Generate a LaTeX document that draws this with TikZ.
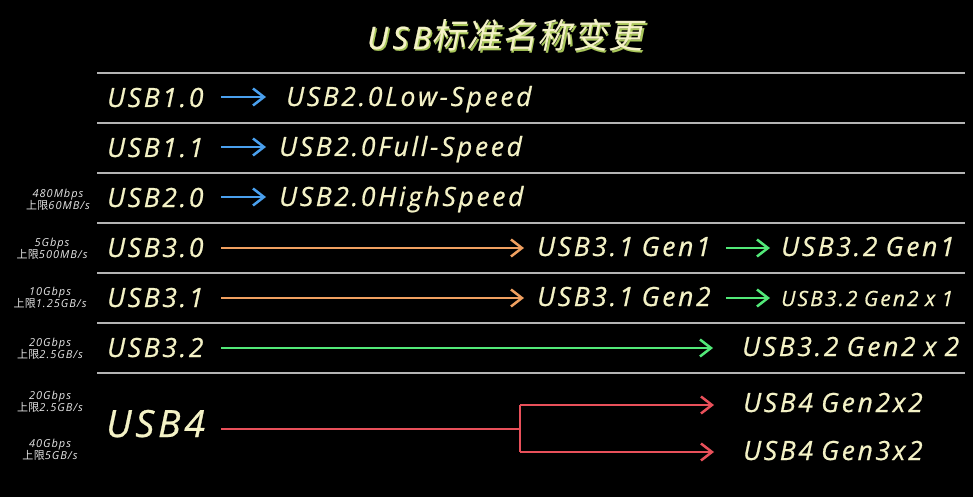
\documentclass[tikz,border=0pt]{standalone}
\usepackage{fontspec}
\setmainfont{Open Sans}
\newfontfamily\uf{Open Sans}[LetterSpace=10,WordSpace=0.85,FakeBold=0.7]
\newfontfamily\ufs{Open Sans}[LetterSpace=9]
\newfontfamily\uft{Open Sans}[LetterSpace=14,FakeBold=0.7]
\newfontfamily\cjk{Noto Sans CJK SC}[LetterSpace=4]
\newfontfamily\cjkslant{Noto Sans CJK SC}[FakeSlant=0.2,LetterSpace=3]
\usetikzlibrary{arrows.meta}
\definecolor{cream}{HTML}{F4F2C6}
\definecolor{titlegreen}{HTML}{A8C65A}
\definecolor{sepgray}{HTML}{B4B4B4}
\definecolor{ablue}{HTML}{4AA0EE}
\definecolor{aorange}{HTML}{F0A060}
\definecolor{agreen}{HTML}{52E878}
\definecolor{ared}{HTML}{E8505A}
\definecolor{lbl}{HTML}{E6E6E6}
\begin{document}
\begin{tikzpicture}[x=1pt,y=-1pt,
  mainlbl/.style={anchor=base west, inner sep=0pt, text=cream, font=\uf\fontsize{26.5}{30}\selectfont\itshape},
  biglbl/.style={anchor=base west, inner sep=0pt, text=cream, font=\uf\fontsize{37.5}{40}\selectfont\itshape},
  smalllbl/.style={anchor=base west, inner sep=0pt, text=cream, font=\uf\fontsize{21}{24}\selectfont\itshape},
  speed/.style={align=center, inner sep=0pt, text=lbl, font=\ufs\fontsize{11}{12}\selectfont\itshape},
  sep/.style={draw=sepgray, line width=2pt},
  conn/.style={line width=2.5pt, -{Straight Barb[length=11pt,width=17pt,line width=2.5pt]}},
  plain/.style={line width=2.5pt}
]
\fill[black] (0,0) rectangle (973,497);
\useasboundingbox (0,0) rectangle (973,497);

% title
\node[anchor=base west, inner sep=0pt, text=titlegreen] (titleshadow) at (368.5,50.5)
  {\uft\fontsize{31}{34}\selectfont\itshape USB\cjkslant\fontsize{34.5}{38}\selectfont 标准名称变更};
\node[anchor=base west, inner sep=0pt, text=cream] (title) at (367,49)
  {\uft\fontsize{31}{34}\selectfont\itshape USB\cjkslant\fontsize{34.5}{38}\selectfont 标准名称变更};

% separators
\foreach \yy in {73,123,173,223,273,323,373}
  \draw[sep] (97,\yy) -- (965,\yy);

% left labels
\node[mainlbl] (u10) at (107,107) {USB1.0};
\node[mainlbl] (u11) at (107,157) {USB1.1};
\node[mainlbl] (u20) at (107,207) {USB2.0};
\node[mainlbl] (u30) at (107,257) {USB3.0};
\node[mainlbl] (u31) at (107,307) {USB3.1};
\node[mainlbl] (u32) at (107,357) {USB3.2};
\node[biglbl] (u4) at (106,437) {USB4};

% targets
\node[mainlbl] (t1) at (286,106) {USB2.0Low-Speed};
\node[mainlbl] (t2) at (279,156) {USB2.0Full-Speed};
\node[mainlbl] (t3) at (279,206) {USB2.0HighSpeed};
\node[mainlbl] (g31a) at (537,256) {USB3.1 Gen1};
\node[mainlbl] (g32a) at (781,256) {USB3.2 Gen1};
\node[mainlbl] (g31b) at (537,306) {USB3.1 Gen2};
\node[smalllbl] (g32b) at (781,306) {USB3.2 Gen2 x 1};
\node[mainlbl] (g32c) at (742,356) {USB3.2 Gen2 x 2};
\node[mainlbl] (g4a) at (743,412) {USB4 Gen2x2};
\node[mainlbl] (g4b) at (743,460) {USB4 Gen3x2};

% speed notes
\node[speed] (sp3) at (58,200) {480Mbps\\{\cjk 上限}60MB/s};
\node[speed] (sp4) at (52,249) {5Gbps\\{\cjk 上限}500MB/s};
\node[speed] (sp5) at (50,298) {10Gbps\\{\cjk 上限}1.25GB/s};
\node[speed] (sp6) at (50,349) {20Gbps\\{\cjk 上限}2.5GB/s};
\node[speed] (sp7) at (50,402) {20Gbps\\{\cjk 上限}2.5GB/s};
\node[speed] (sp8) at (50,450) {40Gbps\\{\cjk 上限}5GB/s};

% connector end points
\coordinate (a1s) at (221,97);  \coordinate (a1e) at (266,97);
\coordinate (a2s) at (221,147); \coordinate (a2e) at (266,147);
\coordinate (a3s) at (221,197); \coordinate (a3e) at (266,197);
\coordinate (a4s) at (221,248); \coordinate (a4e) at (524,248);
\coordinate (a5s) at (221,298); \coordinate (a5e) at (524,298);
\coordinate (b4s) at (726,248); \coordinate (b4e) at (770,248);
\coordinate (b5s) at (726,298); \coordinate (b5e) at (770,298);
\coordinate (a6s) at (221,348); \coordinate (a6e) at (713,348);
\coordinate (r0) at (221,429);  \coordinate (rj) at (520,429);
\coordinate (rt) at (520,405);  \coordinate (rb) at (520,452);
\coordinate (rte) at (714,405); \coordinate (rbe) at (714,452);

\draw[conn, ablue] (a1s) -- (a1e);
\draw[conn, ablue] (a2s) -- (a2e);
\draw[conn, ablue] (a3s) -- (a3e);
\draw[conn, aorange] (a4s) -- (a4e);
\draw[conn, aorange] (a5s) -- (a5e);
\draw[conn, agreen] (b4s) -- (b4e);
\draw[conn, agreen] (b5s) -- (b5e);
\draw[conn, agreen] (a6s) -- (a6e);
\draw[plain, ared] (r0) -- (rj);
\draw[plain, ared] (rt) -- (rb);
\draw[conn, ared] (rt) -- (rte);
\draw[conn, ared] (rb) -- (rbe);
\end{tikzpicture}
\end{document}
